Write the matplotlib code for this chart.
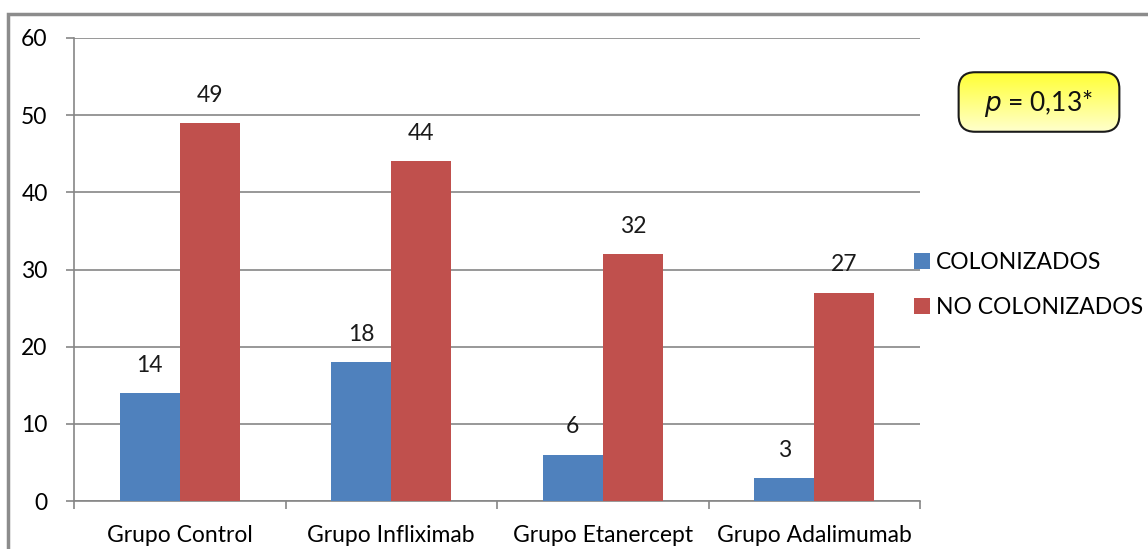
import numpy as np
import matplotlib
matplotlib.use("Agg")
import matplotlib.pyplot as plt
from matplotlib.patches import FancyBboxPatch, Rectangle
from matplotlib.colors import LinearSegmentedColormap

categories = ["Grupo Control", "Grupo Infliximab", "Grupo Etanercept", "Grupo Adalimumab"]
colonizados = [14, 18, 6, 3]
no_colonizados = [49, 44, 32, 27]
series_names = ["COLONIZADOS", "NO COLONIZADOS"]
y_ticks = [0, 10, 20, 30, 40, 50, 60]
p_text = "= 0,13*"

plt.rcParams["font.family"] = ["Lato", "DejaVu Sans"]
FS = 16.5

W, H = 1148, 549
fig = plt.figure(figsize=(W / 100, H / 100), dpi=100)

ax = fig.add_axes([74 / W, 1 - 501 / H, (920 - 74) / W, (501 - 38) / H])

blue = "#4f81bd"
red = "#c0504d"
grid_c = "#868686"

x = np.arange(len(categories))
bw = 0.284
b1 = ax.bar(x - bw / 2, colonizados, bw, color=blue, label=series_names[0], zorder=3)
b2 = ax.bar(x + bw / 2, no_colonizados, bw, color=red, label=series_names[1], zorder=3)

for bars, vals in ((b1, colonizados), (b2, no_colonizados)):
    for rect, v in zip(bars, vals):
        ax.annotate(str(v), (rect.get_x() + rect.get_width() / 2, v),
                    xytext=(0, 20), textcoords="offset points",
                    ha="center", va="center", fontsize=FS, color="#1a1a1a")

ax.set_xlim(-0.5, len(categories) - 0.5)
ax.set_ylim(0, 60)
ax.set_yticks(y_ticks)
ax.set_yticklabels([str(t) for t in y_ticks], fontsize=FS)
ax.set_xticks(np.arange(len(categories) + 1) - 0.5)
ax.set_xticklabels([])
ax.set_xticks(x, minor=True)
ax.set_xticklabels(categories, minor=True, fontsize=FS)
ax.tick_params(axis="x", which="minor", length=0, pad=17)
ax.tick_params(axis="x", which="major", direction="out", length=6, color=grid_c, width=1.2)
ax.tick_params(axis="y", direction="out", length=6, color=grid_c, width=1.2, pad=13)
ax.yaxis.grid(True, color=grid_c, linewidth=1.2, zorder=0)
ax.set_axisbelow(True)
for s in ("top", "right"):
    ax.spines[s].set_visible(False)
for s in ("left", "bottom"):
    ax.spines[s].set_color(grid_c)
    ax.spines[s].set_linewidth(1.2)

fig.legend(handles=[b1, b2], labels=series_names, loc="upper left",
           bbox_to_anchor=(905 / W, 1 - 243 / H), frameon=False, fontsize=FS,
           handlelength=0.7, handleheight=0.7, handletextpad=0.25,
           labelspacing=1.05, borderaxespad=0)

# outer frame of the chart area
fig.patches.append(Rectangle((8 / W, -0.1), 1.2, 1 - 14 / H + 0.1,
                             transform=fig.transFigure, fill=False,
                             edgecolor="#8c8c8c", linewidth=2.5))

# p-value box with yellow gradient
bx0, by0, bx1, by1 = 957, 71, 1121, 133
bax = fig.add_axes([bx0 / W, 1 - by1 / H, (bx1 - bx0) / W, (by1 - by0) / H])
bax.set_xlim(0, 1)
bax.set_ylim(0, 1)
bax.axis("off")
cmap = LinearSegmentedColormap.from_list("yl", ["#ffffd0", "#ffff30"])
grad = np.linspace(0, 1, 256).reshape(-1, 1)
im = bax.imshow(grad, extent=[0, 1, 0, 1], origin="lower", cmap=cmap,
                aspect="auto", zorder=1)
box = FancyBboxPatch((0.01, 0.02), 0.98, 0.96,
                     boxstyle="round,pad=0,rounding_size=0.1",
                     mutation_aspect=(bx1 - bx0) / (by1 - by0),
                     facecolor="none", edgecolor="#1a1a1a", linewidth=1.5, zorder=2)
bax.add_patch(box)
im.set_clip_path(box)
bax.text(0.5, 0.48, r"$\it{p}$ " + p_text, ha="center", va="center",
         fontsize=19, color="#111111", zorder=3)

fig.savefig("out.png", dpi=100)
